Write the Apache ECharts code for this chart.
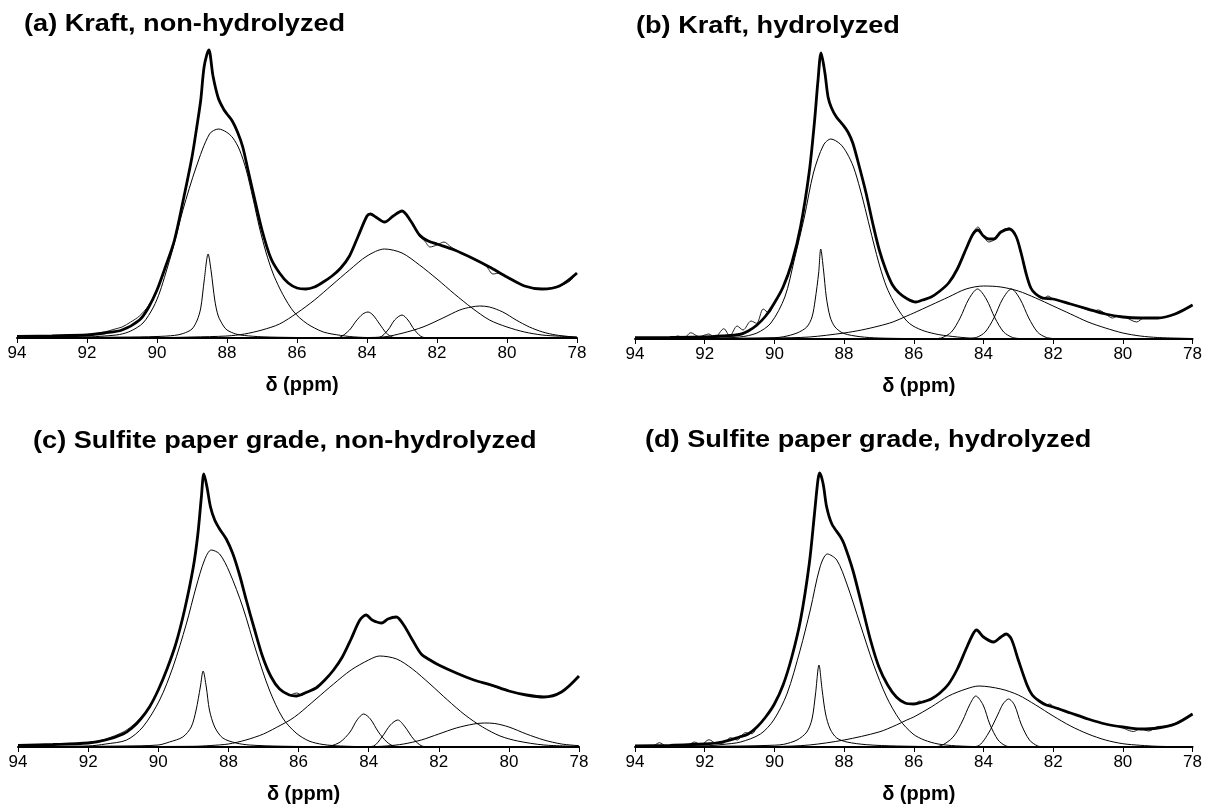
<!DOCTYPE html>
<html>
<head>
<meta charset="utf-8">
<script src="https://cdn.jsdelivr.net/npm/echarts@6/dist/echarts.min.js"></script>
<style>
html,body{margin:0;padding:0;background:#fff;}
#chart{width:1205px;height:808px;}
</style>
</head>
<body>
<div id="chart"></div>
<script>
// ---- tick labels / titles ----
const xTicks = [94, 92, 90, 88, 86, 84, 82, 80, 78];
const titles = ['(a) Kraft, non-hydrolyzed', '(b) Kraft, hydrolyzed',
  '(c) Sulfite paper grade, non-hydrolyzed', '(d) Sulfite paper grade, hydrolyzed'];
const axisName = 'δ (ppm)';

// ---- panel (a) ----
const aFit = [[94,1.7],[93,2.2],[92,3],[91.5,5],[91,8],[90.5,18],[90.25,30],[90,48],[89.75,72],[89.5,98],[89.25,138],[89,181],[88.85,214],[88.75,238],[88.65,272],[88.52,288],[88.4,262],[88.25,240],[88.1,229],[88,224],[87.85,217],[87.7,206],[87.55,191],[87.4,168],[87.25,145],[87,108],[86.75,80],[86.5,65],[86.25,55],[86,50],[85.75,49],[85.5,51],[85.25,56],[85,62],[84.75,70],[84.5,82],[84.25,102],[84,122],[83.9,124],[83.75,121],[83.5,116],[83.25,122],[83,127],[82.75,117],[82.5,103],[82.25,97],[82,94],[81.5,88],[81,80],[80.5,71],[80,61],[79.5,52],[79,49],[78.5,52],[78,65]];
const aExp = [[94,1.5],[93,2.5],[92,3.5],[91.5,6],[91.2,9],[91,11],[90.75,16],[90.5,22],[90.25,32],[90,48],[89.75,72],[89.5,98],[89.25,138],[89,181],[88.85,214],[88.75,238],[88.65,272],[88.52,288],[88.4,262],[88.25,240],[88.1,229],[88,224],[87.85,217],[87.7,206],[87.55,191],[87.4,168],[87.25,145],[87,108],[86.75,80],[86.5,65],[86.25,55],[86,50],[85.75,49],[85.5,51],[85.25,56],[85,62],[84.75,70],[84.5,82],[84.25,102],[84,122],[83.9,124],[83.75,121],[83.5,116],[83.25,122],[83,127],[82.75,117],[82.5,102],[82.35,97],[82.2,91],[82,93],[81.8,96],[81.6,91],[81.3,85],[81,80],[80.6,72],[80.4,64],[80.2,65],[80,61],[79.5,52],[79,49],[78.5,52],[78.2,57],[78,65]];
const aPk1 = [[94,0.3],[91,0.9],[90,1.5],[89.5,2.6],[89.25,4.5],[89,9],[88.85,18],[88.75,30],[88.65,58],[88.54,84],[88.45,66],[88.35,38],[88.25,22],[88.1,12],[88,8],[87.75,4],[87.5,2.5],[87,1.2],[86,0.5],[84,0.2],[78,0]];
const aPk2 = [[94,0.2],[92,1],[91.5,2],[91.07,3.5],[90.75,7],[90.4,15],[90.1,31],[89.92,46],[89.75,65],[89.54,90],[89.26,128],[88.88,171],[88.5,204],[88.24,209],[88.02,206],[87.83,200],[87.64,188],[87.45,168],[87.26,140],[87.07,110],[86.88,85],[86.69,65],[86.5,50],[86.3,37],[86.11,27],[85.92,20],[85.7,14],[85.5,10],[85.25,6],[85,4],[84.5,1.5],[84,0.5],[78,0]];
const aPk3 = [[94,0],[90,0.3],[89,1],[88,2],[87.5,4],[87,8],[86.5,14],[86,25],[85.5,38],[85,53],[84.5,68],[84,82],[83.5,89],[83,85],[82.5,73],[82,59],[81.5,44],[81,30],[80.5,18],[80,11],[79.5,6],[79,3],[78.5,1.8],[78,1]];
const aPk4 = [[85,0],[84.78,0.7],[84.5,8],[84.31,17],[84.12,24],[83.97,26],[83.83,23],[83.64,14],[83.45,5],[83.26,0.7],[83,0]];
const aPk5 = [[84,0],[83.64,0.7],[83.4,8],[83.21,18],[83,23],[82.83,18],[82.64,8],[82.4,0.7],[82,0]];
const aPk6 = [[86,0],[84.5,0.3],[83.54,1],[82.97,5],[82.4,11],[81.83,20],[81.35,28],[81.02,31],[80.78,32],[80.5,31],[80.12,26],[79.74,18],[79.36,11],[78.98,6],[78.6,3],[78,0.7]];

// ---- panel (b) ----
const bFit = [[94,1.3],[93,1.5],[92,2],[91.5,3],[91,4.5],[90.75,8],[90.5,14],[90.25,23],[90,36],[89.75,52],[89.5,76],[89.25,112],[89,167],[88.85,217],[88.75,258],[88.66,286],[88.55,266],[88.46,242],[88.36,231],[88.22,222],[88.03,214],[87.89,207],[87.75,196],[87.56,172],[87.37,146],[87.18,116],[86.99,89],[86.8,69],[86.61,54],[86.42,46],[86.18,40],[85.94,37],[85.75,39],[85.5,42],[85.25,48],[85,56],[84.75,70],[84.5,90],[84.3,105],[84.16,109],[84,103],[83.85,100],[83.7,100],[83.5,107],[83.26,110],[83.07,103],[82.92,86],[82.78,66],[82.64,51],[82.5,45],[82.3,41],[82,40],[81.5,35],[81,30],[80.5,25],[80,22],[79.5,21],[79,21],[78.5,25],[78,34]];
const bExp = [[94,1],[93.2,1],[92.95,1],[92.78,3],[92.59,1.3],[92.4,6.3],[92.16,2.3],[91.88,5],[91.71,1.7],[91.45,10.3],[91.28,3],[91.07,13],[90.9,9],[90.67,18],[90.51,15.7],[90.32,30],[90.16,26],[90,37],[89.75,52],[89.5,76],[89.25,112],[89,167],[88.85,217],[88.75,258],[88.66,286],[88.55,266],[88.46,242],[88.36,231],[88.22,222],[88.03,214],[87.89,207],[87.75,196],[87.56,172],[87.37,146],[87.18,116],[86.99,89],[86.8,69],[86.61,54],[86.42,46],[86.18,40],[85.94,37],[85.75,39],[85.5,42],[85.25,48],[85,56],[84.75,70],[84.5,90],[84.3,106],[84.16,112],[84,103],[83.85,97],[83.7,99],[83.5,107],[83.26,111],[83.07,103],[82.92,86],[82.78,66],[82.64,51],[82.5,45],[82.3,40],[82.15,43],[82,40],[81.5,35],[81.1,30],[80.9,28],[80.7,29],[80.5,25],[80.3,21],[80.15,23],[79.95,22],[79.6,17],[79.4,21],[79,21],[78.5,25],[78,34]];
const bPk1 = [[94,0.3],[91,0.8],[90,1.3],[89.73,2.3],[89.35,6],[89.07,12],[88.92,22],[88.83,39],[88.73,66],[88.67,90],[88.59,69],[88.51,42],[88.4,22],[88.26,12],[88.02,5.7],[87.54,2.3],[87,1],[86,0.4],[84,0.1],[78,0]];
const bPk2 = [[94,0.1],[92,0.6],[91,2],[90.5,6],[90.1,16],[89.7,42],[89.43,79],[89.14,122],[88.88,166],[88.59,194],[88.38,200],[88.11,195],[87.92,186],[87.73,172],[87.54,150],[87.35,124],[87.16,97],[86.97,72],[86.78,52],[86.59,38],[86.4,27],[86.2,18],[86.02,13],[85.7,8],[85.3,4.5],[85,3],[84.5,1.2],[84,0.5],[78,0]];
const bPk3 = [[94,0],[91,0.5],[90,1],[89,2],[88,6],[87.5,9],[87,13],[86.6,17],[86.2,23],[86,26],[85.5,34],[85,42],[84.5,50],[84,53],[83.5,52],[83,48],[82.5,41],[82,33],[81.5,25],[81,17],[80.5,11],[80,6],[79.5,3],[79,1.5],[78,0.5]];
const bPk4 = [[85.5,0.2],[85.2,1.2],[84.92,7],[84.67,21],[84.42,40],[84.17,50],[83.92,40],[83.67,21],[83.42,7],[83.17,1.6],[82.9,0.2]];
const bPk5 = [[84.5,0.2],[84.2,1.6],[83.95,7],[83.7,21],[83.45,40],[83.2,50],[82.95,40],[82.7,21],[82.45,7],[82.2,1.6],[81.9,0.2]];

// ---- panel (c) ----
const cFit = [[94,1.7],[93,2.5],[92,4],[91.5,7],[91,13],[90.75,19],[90.5,28],[90.25,40],[90,57],[89.75,78],[89.5,103],[89.25,137],[89,180],[88.87,213],[88.77,250],[88.7,273],[88.61,260],[88.51,240],[88.39,227],[88.25,218],[88.06,208],[87.87,193],[87.68,172],[87.49,147],[87.25,117],[87.02,90],[86.78,70],[86.54,58],[86.26,52],[86.05,51],[85.75,55],[85.5,59],[85.25,67],[85,77],[84.75,90],[84.5,108],[84.25,127],[84.07,132],[83.9,127],[83.62,124],[83.45,128],[83.21,130],[83,122],[82.75,107],[82.5,93],[82.25,87],[82,82],[81.5,74],[81,67],[80.5,62],[80,56],[79.5,52],[79,50],[78.5,55],[78,71]];
const cExp = [[94,1.7],[93,2.5],[92,4.5],[91.5,8],[91,15],[90.75,21],[90.5,29],[90.25,40],[90,57],[89.75,78],[89.5,103],[89.25,137],[89,180],[88.87,213],[88.77,250],[88.7,273],[88.61,260],[88.51,240],[88.39,227],[88.25,218],[88.06,208],[87.87,193],[87.68,172],[87.49,147],[87.25,117],[87.02,90],[86.78,70],[86.54,58],[86.26,52],[86.05,54],[85.9,52],[85.75,55],[85.5,59],[85.25,67],[85,77],[84.75,90],[84.5,108],[84.25,127],[84.07,132],[83.9,127],[83.62,124],[83.45,128],[83.21,130],[83,122],[82.75,107],[82.5,93],[82.25,87],[82.1,84],[81.9,80],[81.5,74],[81,67],[80.7,64],[80.5,61],[80,56],[79.7,53],[79.5,52],[79,50],[78.5,55],[78,71]];
const cPk1 = [[94,0.3],[91,1],[90,2],[89.68,5],[89.3,10],[89.06,20],[88.92,37],[88.8,60],[88.72,76],[88.63,60],[88.54,37],[88.39,20],[88.16,9],[87.78,4],[87.4,2],[86.5,0.8],[85,0.3],[78,0]];
const cPk2 = [[94,0.2],[92,1],[91.5,3],[90.9,7],[90.44,20],[89.96,47],[89.58,80],[89.2,123],[88.92,160],[88.68,187],[88.49,197],[88.25,193],[87.97,175],[87.59,140],[87.2,95],[86.83,57],[86.45,29],[86.07,14],[85.7,6],[85.3,2.5],[84.8,1],[84,0.3],[78,0]];
const cPk3 = [[94,0],[89,0.7],[88.5,1.5],[88,3],[87.5,7],[87,13],[86.5,22],[86.24,27],[86,33],[85.5,48],[85,63],[84.5,77],[84,87],[83.69,91],[83.2,88],[82.75,78],[82.25,63],[81.75,47],[81.25,32],[80.75,20],[80.25,11],[79.75,6],[79,2],[78,0.7]];
const cPk4 = [[85.5,0],[85.1,1],[84.81,5],[84.53,15],[84.33,27],[84.14,33],[83.95,28],[83.72,15],[83.48,5],[83.29,1],[83,0]];
const cPk5 = [[84.2,0],[83.86,1],[83.62,10],[83.38,22],[83.17,27],[82.96,20],[82.72,8],[82.48,1],[82.2,0]];
const cPk6 = [[86,0],[84,0.3],[83.5,1],[83,3],[82.5,7],[82,13],[81.5,19],[81,23],[80.7,24],[80.4,23.5],[80,20],[79.5,13],[79,7],[78.5,3],[78,1.3]];

// ---- panel (d) ----
const dFit = [[94,1],[93,1.7],[92,3],[91.5,5],[91,10],[90.75,13],[90.5,20],[90.25,30],[90,43],[89.75,62],[89.5,90],[89.25,127],[89,183],[88.85,233],[88.75,267],[88.7,274],[88.6,263],[88.5,240],[88.35,223],[88.1,210],[88,203],[87.75,177],[87.5,143],[87.25,108],[87,80],[86.75,62],[86.5,50],[86.25,44],[86,43],[85.75,45],[85.5,48],[85.25,54],[85,63],[84.75,78],[84.5,98],[84.3,113],[84.2,117],[84,110],[83.71,105],[83.5,110],[83.35,113],[83.2,108],[83,87],[82.75,62],[82.6,52],[82.4,46],[82.2,42],[82,40],[81.5,34],[81,28],[80.5,23],[80,20],[79.5,18],[79,19],[78.5,23],[78,33]];
const dExp = [[94,1],[93.5,1],[93.3,4.3],[93.1,1],[92.5,1.5],[92.3,5],[92.1,2.3],[91.88,7.3],[91.65,3.3],[91.45,4],[91.26,9.3],[91.07,7],[90.83,14.3],[90.64,13.3],[90.5,20],[90.25,30],[90,43],[89.75,62],[89.5,90],[89.25,127],[89,183],[88.85,233],[88.75,267],[88.7,274],[88.6,263],[88.5,240],[88.35,223],[88.1,210],[88,203],[87.75,177],[87.5,143],[87.25,108],[87,80],[86.75,62],[86.5,50],[86.25,44],[86,43],[85.83,46],[85.75,45],[85.5,48],[85.25,54],[85,63],[84.75,78],[84.5,98],[84.3,113],[84.2,117],[84,110],[83.71,105],[83.5,110],[83.35,113],[83.2,108],[83,87],[82.75,62],[82.6,52],[82.4,46],[82.2,42],[82.1,43],[81.95,39],[81.5,34],[81,28],[80.5,23],[80.05,20],[79.9,17.5],[79.7,15.5],[79.5,18],[79.25,16],[79,20.5],[78.75,21],[78.4,25],[78.2,28],[78,33]];
const dPk1 = [[94,0.3],[91,1],[90,1.8],[89.73,2.7],[89.35,7],[89.07,15],[88.92,28],[88.82,53],[88.72,82],[88.63,57],[88.53,33],[88.4,18],[88.21,9],[87.92,5],[87.35,2.3],[86.5,1],[85,0.3],[78,0]];
const dPk2 = [[94,0.2],[92,1],[91.5,2.5],[90.97,5],[90.4,13],[90.02,27],[89.64,53],[89.26,97],[88.97,137],[88.69,180],[88.48,193],[88.21,187],[87.92,163],[87.54,123],[87.16,83],[86.78,50],[86.4,27],[86.02,13],[85.7,7],[85.3,3],[84.8,1.2],[84,0.3],[78,0]];
const dPk3 = [[94,0],[90,0.5],[89,2],[88,7],[87,15],[86.5,22],[86.2,27],[86,30],[85.5,40],[85,51],[84.5,58],[84.13,61],[83.5,58],[83,52],[82.5,42],[82,31],[81.5,21],[81,13],[80.5,7],[80,3.3],[79.5,1.7],[79,0.7],[78,0.2]];
const dPk4 = [[85.6,0],[85.25,1],[84.87,10],[84.59,27],[84.4,42],[84.22,51],[84.01,42],[83.82,23],[83.58,7],[83.35,1],[83.1,0]];
const dPk5 = [[84.5,0],[84.16,1],[83.87,13],[83.58,33],[83.44,43],[83.28,48],[83.11,42],[82.92,23],[82.68,7],[82.44,1],[82.2,0]];

// ---- layout ----
const grids = [
  {left: 17, top: 38, width: 560, height: 300},
  {left: 635, top: 39, width: 560, height: 300},
  {left: 18, top: 447, width: 561, height: 300},
  {left: 635, top: 447, width: 560, height: 300}
];
const titlePos = [[24, 25], [636, 27], [33, 442], [645, 441]];
const panels = [
  {exp: aExp, fit: aFit, peaks: [aPk1, aPk2, aPk3, aPk4, aPk5, aPk6]},
  {exp: bExp, fit: bFit, peaks: [bPk1, bPk2, bPk3, bPk4, bPk5]},
  {exp: cExp, fit: cFit, peaks: [cPk1, cPk2, cPk3, cPk4, cPk5, cPk6]},
  {exp: dExp, fit: dFit, peaks: [dPk1, dPk2, dPk3, dPk4, dPk5]}
];

const FONT = '"Liberation Sans", Arial, Helvetica, sans-serif';
// library needs ascending x for clean curve construction
const asc = arr => arr.slice().sort((p, q) => p[0] - q[0]);
const xAxes = [], yAxes = [], series = [], graphic = [];
grids.forEach((g, i) => {
  xAxes.push({
    gridIndex: i, type: 'value', min: 78, max: 94, interval: 2, inverse: true,
    axisLine: {onZero: false, lineStyle: {color: '#000', width: 2}},
    axisTick: {show: true, length: 5, customValues: xTicks, lineStyle: {color: '#000', width: 1}},
    axisLabel: {color: '#000', fontSize: 17, fontFamily: FONT, margin: 7, customValues: xTicks},
    splitLine: {show: false},
    name: axisName, nameLocation: 'middle', nameGap: 37,
    nameTextStyle: {color: '#000', fontSize: 20, fontWeight: 'bold', fontFamily: FONT, padding: [0, 0, 0, 10]}
  });
  yAxes.push({gridIndex: i, type: 'value', min: 0, max: 300, show: false});
  const p = panels[i];
  p.peaks.forEach(pk => series.push({
    type: 'line', xAxisIndex: i, yAxisIndex: i, data: asc(pk), smooth: 0.3,
    symbol: 'none', lineStyle: {color: '#000', width: 1}, z: 2
  }));
  series.push({
    type: 'line', xAxisIndex: i, yAxisIndex: i, data: asc(p.exp), smooth: 0.3,
    symbol: 'none', lineStyle: {color: '#222', width: 1}, z: 3
  });
  series.push({
    type: 'line', xAxisIndex: i, yAxisIndex: i, data: asc(p.fit), smooth: 0.3,
    symbol: 'none', lineStyle: {color: '#000', width: 2.8}, z: 4
  });
  graphic.push({
    type: 'text', x: titlePos[i][0], y: titlePos[i][1], scaleX: 1.18,
    style: {text: titles[i], fontSize: 23, fontWeight: 'bold', fontFamily: FONT, fill: '#000',
            align: 'left', verticalAlign: 'middle'}
  });
});

const chart = echarts.init(document.getElementById('chart'), null, {renderer: 'canvas'});
chart.setOption({
  backgroundColor: '#fff',
  animation: false,
  grid: grids,
  xAxis: xAxes,
  yAxis: yAxes,
  series: series,
  graphic: graphic
});
</script>
</body>
</html>
